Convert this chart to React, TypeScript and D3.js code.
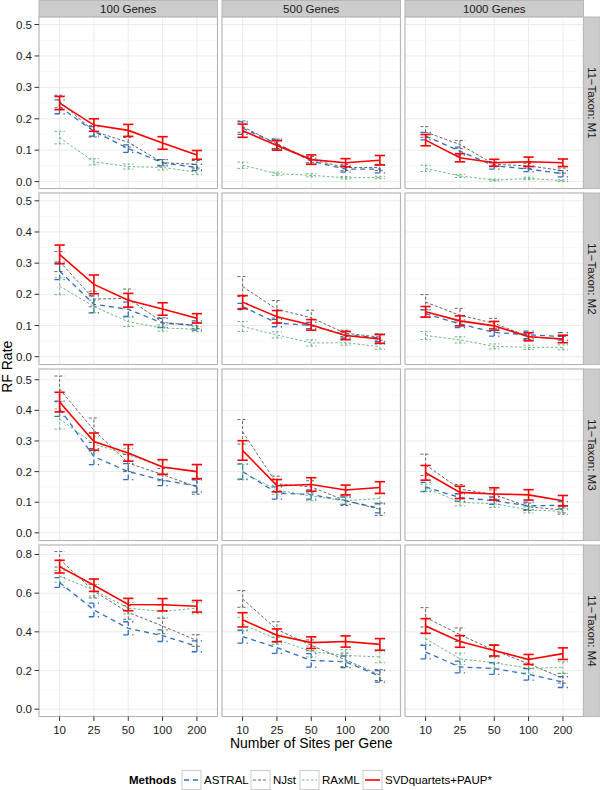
import * as d3 from 'd3';

// facets and categories
const sites = ['10', '25', '50', '100', '200'];
const geneCounts = ['100 Genes', '500 Genes', '1000 Genes'];
const models = ['11−Taxon: M1', '11−Taxon: M2', '11−Taxon: M3', '11−Taxon: M4'];
const methods = ['ASTRAL', 'NJst', 'RAxML', 'SVDquartets+PAUP*'];

const ticksSmall = [0, 0.1, 0.2, 0.3, 0.4, 0.5];
const ticksLarge = [0, 0.2, 0.4, 0.6, 0.8];

// mean RF rate, one inner array per gene count (100, 500, 1000), values per sites
const m1Astral = [[0.238, 0.16, 0.105, 0.06, 0.045], [0.17, 0.12, 0.065, 0.04, 0.04], [0.145, 0.097, 0.05, 0.04, 0.025]];
const m1AstralErr = [[0.022, 0.015, 0.012, 0.01, 0.01], [0.02, 0.015, 0.01, 0.01, 0.012], [0.012, 0.013, 0.01, 0.008, 0.01]];
const m1Njst = [[0.255, 0.16, 0.125, 0.06, 0.055], [0.175, 0.12, 0.07, 0.045, 0.045], [0.158, 0.118, 0.055, 0.05, 0.035]];
const m1NjstErr = [[0.02, 0.018, 0.015, 0.01, 0.012], [0.018, 0.015, 0.01, 0.01, 0.01], [0.017, 0.013, 0.008, 0.008, 0.008]];
const m1Raxml = [[0.14, 0.063, 0.048, 0.045, 0.03], [0.052, 0.025, 0.02, 0.012, 0.013], [0.042, 0.018, 0.005, 0.01, 0.003]];
const m1RaxmlErr = [[0.02, 0.01, 0.008, 0.008, 0.008], [0.01, 0.005, 0.005, 0.004, 0.004], [0.01, 0.005, 0.003, 0.004, 0.003]];
const m1Svd = [[0.25, 0.18, 0.163, 0.123, 0.085], [0.162, 0.115, 0.07, 0.06, 0.068], [0.132, 0.076, 0.06, 0.063, 0.06]];
const m1SvdErr = [[0.021, 0.02, 0.019, 0.02, 0.014], [0.021, 0.015, 0.015, 0.013, 0.015], [0.018, 0.013, 0.011, 0.015, 0.012]];

const m2Astral = [[0.275, 0.168, 0.152, 0.108, 0.1], [0.161, 0.108, 0.1, 0.07, 0.06], [0.138, 0.105, 0.078, 0.07, 0.065]];
const m2AstralErr = [[0.028, 0.027, 0.023, 0.015, 0.015], [0.01, 0.012, 0.01, 0.01, 0.012], [0.012, 0.012, 0.012, 0.012, 0.012]];
const m2Njst = [[0.305, 0.185, 0.187, 0.11, 0.1], [0.225, 0.152, 0.125, 0.075, 0.063], [0.175, 0.133, 0.107, 0.065, 0.055]];
const m2NjstErr = [[0.032, 0.025, 0.03, 0.015, 0.01], [0.032, 0.028, 0.024, 0.01, 0.01], [0.024, 0.022, 0.016, 0.01, 0.01]];
const m2Raxml = [[0.226, 0.161, 0.112, 0.092, 0.088], [0.097, 0.07, 0.044, 0.045, 0.032], [0.068, 0.054, 0.033, 0.03, 0.03]];
const m2RaxmlErr = [[0.027, 0.02, 0.015, 0.01, 0.008], [0.016, 0.01, 0.01, 0.008, 0.008], [0.013, 0.01, 0.008, 0.007, 0.008]];
const m2Svd = [[0.328, 0.232, 0.181, 0.153, 0.123], [0.175, 0.128, 0.102, 0.068, 0.057], [0.144, 0.115, 0.099, 0.064, 0.057]];
const m2SvdErr = [[0.03, 0.03, 0.022, 0.02, 0.015], [0.021, 0.02, 0.017, 0.013, 0.014], [0.017, 0.016, 0.014, 0.013, 0.012]];

const m3Astral = [[0.405, 0.249, 0.2, 0.172, 0.153], [0.2, 0.13, 0.125, 0.105, 0.08], [0.15, 0.115, 0.105, 0.088, 0.09]];
const m3AstralErr = [[0.025, 0.026, 0.026, 0.018, 0.02], [0.025, 0.02, 0.015, 0.012, 0.015], [0.015, 0.012, 0.012, 0.012, 0.012]];
const m3Njst = [[0.47, 0.335, 0.228, 0.19, 0.15], [0.33, 0.16, 0.15, 0.105, 0.077], [0.222, 0.143, 0.125, 0.085, 0.075]];
const m3NjstErr = [[0.042, 0.04, 0.028, 0.02, 0.024], [0.04, 0.025, 0.02, 0.016, 0.02], [0.035, 0.015, 0.015, 0.012, 0.01]];
const m3Raxml = [[0.372, 0.29, 0.255, 0.215, 0.2], [0.198, 0.14, 0.12, 0.105, 0.112], [0.147, 0.1, 0.095, 0.075, 0.07]];
const m3RaxmlErr = [[0.033, 0.025, 0.02, 0.02, 0.022], [0.025, 0.015, 0.015, 0.012, 0.015], [0.012, 0.012, 0.012, 0.01, 0.01]];
const m3Svd = [[0.427, 0.298, 0.261, 0.215, 0.2], [0.269, 0.154, 0.158, 0.14, 0.148], [0.196, 0.132, 0.127, 0.124, 0.105]];
const m3SvdErr = [[0.032, 0.028, 0.027, 0.024, 0.023], [0.032, 0.02, 0.022, 0.016, 0.019], [0.024, 0.02, 0.02, 0.017, 0.017]];

const m4Astral = [[0.655, 0.513, 0.418, 0.38, 0.325], [0.375, 0.318, 0.252, 0.245, 0.17], [0.295, 0.218, 0.21, 0.18, 0.14]];
const m4AstralErr = [[0.025, 0.035, 0.034, 0.03, 0.028], [0.033, 0.03, 0.035, 0.03, 0.03], [0.035, 0.03, 0.03, 0.03, 0.028]];
const m4Njst = [[0.775, 0.61, 0.5, 0.43, 0.355], [0.57, 0.412, 0.33, 0.255, 0.176], [0.475, 0.385, 0.304, 0.235, 0.16]];
const m4NjstErr = [[0.04, 0.035, 0.035, 0.04, 0.03], [0.043, 0.04, 0.028, 0.035, 0.028], [0.05, 0.035, 0.03, 0.025, 0.025]];
const m4Raxml = [[0.687, 0.615, 0.522, 0.505, 0.523], [0.44, 0.36, 0.298, 0.278, 0.27], [0.365, 0.26, 0.24, 0.212, 0.215]];
const m4RaxmlErr = [[0.03, 0.03, 0.03, 0.033, 0.03], [0.035, 0.025, 0.028, 0.03, 0.03], [0.03, 0.03, 0.028, 0.025, 0.03]];
const m4Svd = [[0.737, 0.641, 0.541, 0.54, 0.532], [0.462, 0.382, 0.344, 0.35, 0.335], [0.43, 0.35, 0.303, 0.257, 0.287]];
const m4SvdErr = [[0.033, 0.032, 0.032, 0.032, 0.03], [0.037, 0.033, 0.03, 0.029, 0.03], [0.038, 0.03, 0.028, 0.026, 0.03]];

const means = [
  [m1Astral, m1Njst, m1Raxml, m1Svd],
  [m2Astral, m2Njst, m2Raxml, m2Svd],
  [m3Astral, m3Njst, m3Raxml, m3Svd],
  [m4Astral, m4Njst, m4Raxml, m4Svd],
];
const errs = [
  [m1AstralErr, m1NjstErr, m1RaxmlErr, m1SvdErr],
  [m2AstralErr, m2NjstErr, m2RaxmlErr, m2SvdErr],
  [m3AstralErr, m3NjstErr, m3RaxmlErr, m3SvdErr],
  [m4AstralErr, m4NjstErr, m4RaxmlErr, m4SvdErr],
];

const rowTicks = [ticksSmall, ticksSmall, ticksSmall, ticksLarge];
const rowDomains: [number, number][] = [[-0.022, 0.524], [-0.025, 0.525], [-0.025, 0.535], [-0.038, 0.849]];

const styles = [
  { color: '#2e6ec4', width: 1.3, dash: '5,4' },
  { color: '#555555', width: 0.9, dash: '3,2' },
  { color: '#5fae75', width: 0.9, dash: '2.5,2' },
  { color: '#ff0000', width: 1.6, dash: undefined as string | undefined },
];

const W = 600;
const H = 790;
const left = 39;
const top = 17;
const panelW = 178.5;
const panelH = 171.5;
const gap = 4.5;
const stripSize = 16.7;
const font = '"Liberation Sans", Arial, Helvetica, sans-serif';

const fmt = d3.format('.1f');

const App = () => {
  const colX = geneCounts.map((_, i) => left + i * (panelW + gap));
  const rowY = models.map((_, i) => top + i * (panelH + gap));
  const gridRight = colX[2] + panelW;
  const gridBottom = rowY[3] + panelH;

  const panels: JSX.Element[] = [];

  models.forEach((model, r) => {
    const y = d3.scaleLinear().domain(rowDomains[r]).range([rowY[r] + panelH, rowY[r]]);
    const ticks = rowTicks[r];
    const step = ticks[1] - ticks[0];
    const minor = ticks.slice(0, -1).map((t) => t + step / 2);

    geneCounts.forEach((gc, c) => {
      const x = d3.scalePoint<string>().domain(sites).range([colX[c], colX[c] + panelW]).padding(0.6);
      const cap = x.step() * 0.3;
      const line = d3
        .line<number>()
        .x((_, i) => x(sites[i]) as number)
        .y((d) => y(d));

      panels.push(
        <g key={`p-${r}-${c}`}>
          <rect x={colX[c]} y={rowY[r]} width={panelW} height={panelH} fill="white" />
          {minor.map((t) => (
            <line key={`mi${t}`} x1={colX[c]} x2={colX[c] + panelW} y1={y(t)} y2={y(t)} stroke="#f5f5f5" strokeWidth={0.6} />
          ))}
          {ticks.map((t) => (
            <line key={`ma${t}`} x1={colX[c]} x2={colX[c] + panelW} y1={y(t)} y2={y(t)} stroke="#ebebeb" strokeWidth={1} />
          ))}
          {sites.map((s) => (
            <line key={`v${s}`} x1={x(s)} x2={x(s)} y1={rowY[r]} y2={rowY[r] + panelH} stroke="#ebebeb" strokeWidth={1} />
          ))}
          {methods.map((m, k) => {
            const st = styles[k];
            const vals = means[r][k][c];
            const e = errs[r][k][c];
            return (
              <g key={m} stroke={st.color} strokeWidth={st.width} strokeDasharray={st.dash} fill="none">
                {vals.map((v, i) => {
                  const cx = x(sites[i]) as number;
                  const lo = y(v - e[i]);
                  const hi = y(v + e[i]);
                  return (
                    <g key={i}>
                      <line x1={cx} x2={cx} y1={lo} y2={hi} />
                      <line x1={cx - cap / 2} x2={cx + cap / 2} y1={lo} y2={lo} />
                      <line x1={cx - cap / 2} x2={cx + cap / 2} y1={hi} y2={hi} />
                    </g>
                  );
                })}
                <path d={line(vals) ?? ''} />
              </g>
            );
          })}
          <rect x={colX[c]} y={rowY[r]} width={panelW} height={panelH} fill="none" stroke="#b8b8b8" strokeWidth={1.2} />
        </g>
      );
    });

    // y axis ticks and labels for this row
    panels.push(
      <g key={`ya-${r}`}>
        {ticks.map((t) => (
          <g key={t}>
            <line x1={left - 4.5} x2={left} y1={y(t)} y2={y(t)} stroke="#333333" strokeWidth={1} />
            <text x={left - 7} y={y(t)} dy="0.35em" textAnchor="end" fontSize={11.5} fill="#1a1a1a">
              {fmt(t)}
            </text>
          </g>
        ))}
      </g>
    );

    // right strip
    panels.push(
      <g key={`rs-${r}`}>
        <rect x={gridRight} y={rowY[r]} width={stripSize} height={panelH} fill="#cccccc" stroke="#b8b8b8" strokeWidth={1} />
        <text
          transform={`translate(${gridRight + stripSize / 2}, ${rowY[r] + panelH / 2}) rotate(90)`}
          dy="0.35em"
          textAnchor="middle"
          fontSize={11.5}
          fill="#1a1a1a"
        >
          {model}
        </text>
      </g>
    );
  });

  const legendKeys = [182, 251, 300, 363];

  return (
    <svg width={W} height={H} style={{ position: 'absolute', left: 0, top: 0 }} fontFamily={font}>
      <rect width={W} height={H} fill="white" />
      {geneCounts.map((gc, c) => (
        <g key={gc}>
          <rect x={colX[c]} y={0.5} width={panelW} height={top - 0.5} fill="#cccccc" stroke="#b8b8b8" strokeWidth={1} />
          <text x={colX[c] + panelW / 2} y={top / 2} dy="0.36em" textAnchor="middle" fontSize={11.5} fill="#1a1a1a">
            {gc}
          </text>
        </g>
      ))}
      {panels}
      {/* x axis ticks for bottom row */}
      {geneCounts.map((gc, c) => {
        const x = d3.scalePoint<string>().domain(sites).range([colX[c], colX[c] + panelW]).padding(0.6);
        return (
          <g key={`xa-${gc}`}>
            {sites.map((s) => (
              <g key={s}>
                <line x1={x(s)} x2={x(s)} y1={gridBottom} y2={gridBottom + 4.5} stroke="#333333" strokeWidth={1} />
                <text x={x(s)} y={gridBottom + 17.5} textAnchor="middle" fontSize={11.5} fill="#1a1a1a">
                  {s}
                </text>
              </g>
            ))}
          </g>
        );
      })}
      <text x={(left + gridRight) / 2} y={748} textAnchor="middle" fontSize={14} fill="#000">
        Number of Sites per Gene
      </text>
      <text transform={`translate(12, ${(top + gridBottom) / 2}) rotate(-90)`} textAnchor="middle" fontSize={14} fill="#000">
        RF Rate
      </text>
      {/* legend */}
      <text x={129} y={784} fontSize={11.5} fontWeight="bold" fill="#000">
        Methods
      </text>
      {methods.map((m, k) => {
        const st = styles[k];
        const kx = legendKeys[k];
        return (
          <g key={m}>
            <rect x={kx} y={770.5} width={19} height={19} fill="white" stroke="#cccccc" strokeWidth={1} />
            <line x1={kx + 2} x2={kx + 17} y1={780} y2={780} stroke={st.color} strokeWidth={st.width} strokeDasharray={st.dash} />
            <text x={kx + 22} y={784} fontSize={11.5} fill="#000">
              {m}
            </text>
          </g>
        );
      })}
    </svg>
  );
};

export default App;
